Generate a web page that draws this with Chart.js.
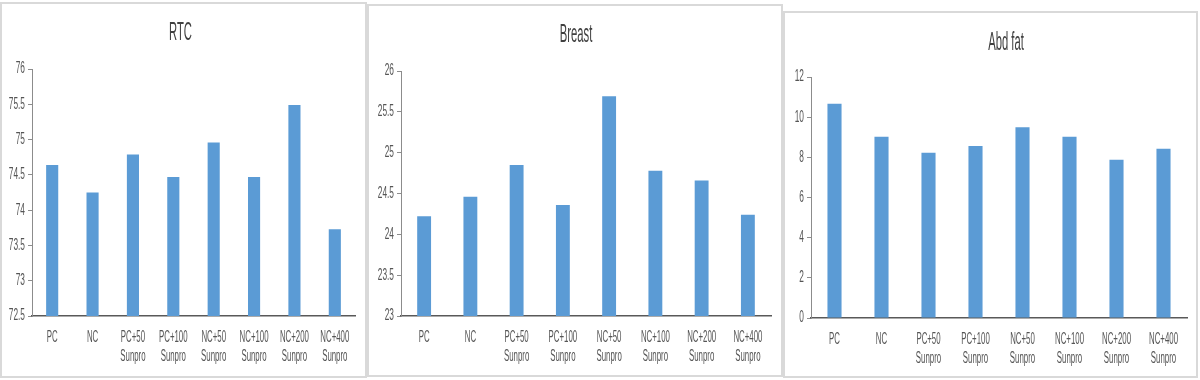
<!DOCTYPE html>
<html>
<head>
<meta charset="utf-8">
<script src="https://cdn.jsdelivr.net/npm/chart.js@4"></script>
<style>
  body { margin: 0; background: #fff; width: 1200px; height: 380px; position: relative; overflow: hidden; }
  .panel { position: absolute; box-sizing: border-box; border: 2px solid #d9d9d9; background: #fff; }
  .panel canvas { display: block; }
</style>
</head>
<body>
<div class="panel" style="left:0px;top:2px;width:367px;height:376px"><canvas id="c1"></canvas></div>
<div class="panel" style="left:367px;top:4px;width:416px;height:373px"><canvas id="c2"></canvas></div>
<div class="panel" style="left:783px;top:11px;width:415px;height:367px"><canvas id="c3"></canvas></div>
<script>
// Data
const categories = [
  "PC", "NC", ["PC+50", "Sunpro"], ["PC+100", "Sunpro"],
  ["NC+50", "Sunpro"], ["NC+100", "Sunpro"], ["NC+200", "Sunpro"], ["NC+400", "Sunpro"]
];
const rtcValues = [74.64, 74.25, 74.79, 74.47, 74.96, 74.47, 75.49, 73.73];
const breastValues = [24.22, 24.46, 24.85, 24.36, 25.69, 24.78, 24.66, 24.24];
const abdFatValues = [10.67, 9.03, 8.23, 8.57, 9.50, 9.03, 7.88, 8.43];
const rtcTicks = [72.5, 76, 0.5];     // min, max, step
const breastTicks = [23, 26, 0.5];
const abdFatTicks = [0, 12, 2];

const FONT = "'Liberation Sans', Arial, sans-serif";

// the source text is a narrow face, so squeeze it sideways
function narrowText(ctx, text, x, y, size, squeeze, color, align) {
  ctx.save();
  ctx.font = size + "px " + FONT;
  ctx.fillStyle = color;
  ctx.textAlign = align;
  ctx.textBaseline = "middle";
  ctx.translate(x, y);
  ctx.scale(squeeze, 1);
  ctx.fillText(text, 0, 0);
  ctx.restore();
}

// tick labels and title drawn narrow
const narrowLabels = {
  id: "narrowLabels",
  afterDraw(chart, args, opts) {
    const ctx = chart.ctx;
    const xs = chart.scales.x;
    const ys = chart.scales.y;
    chart.data.labels.forEach((lab, i) => {
      const lines = Array.isArray(lab) ? lab : [lab];
      const x = xs.getPixelForTick(i);
      lines.forEach((t, j) => narrowText(ctx, t, x, xs.top + 22 + j * 19, 16, 0.49, "#555555", "center"));
    });
    ys.ticks.forEach((t) => {
      narrowText(ctx, String(t.value), ys.right - 7, ys.getPixelForValue(t.value), 16, 0.52, "#555555", "right");
    });
    const mid = (chart.chartArea.left + chart.chartArea.right) / 2;
    narrowText(ctx, opts.text, mid + opts.dx, opts.y, 25, 0.45, "#404040", "center");
  },
};

// Draw one bar panel
function drawPanel(canvasId, title, values, ticks, box) {
  const canvas = document.getElementById(canvasId);
  canvas.width = box.w;
  canvas.height = box.h;
  canvas.style.width = box.w + "px";
  canvas.style.height = box.h + "px";

  return new Chart(canvas.getContext("2d"), {
    type: "bar",
    data: {
      labels: categories,
      datasets: [
        {
          label: title,
          data: values,
          backgroundColor: "#5b9bd5",
          borderWidth: 0,
          categoryPercentage: 1,
          barPercentage: 0.3,
        },
      ],
    },
    plugins: [narrowLabels],
    options: {
      responsive: false,
      animation: false,
      layout: { padding: { left: 0, right: box.right, top: box.top, bottom: 0 } },
      plugins: {
        legend: { display: false },
        tooltip: { enabled: false },
        title: { display: false },
        narrowLabels: { text: title, y: box.titleY, dx: box.titleDx },
      },
      scales: {
        x: {
          grid: { display: false },
          border: { display: true, color: "#595959", width: 1.5 },
          ticks: { display: false },
          afterFit: (scale) => { scale.height = box.xh; },
        },
        y: {
          min: ticks[0],
          max: ticks[1],
          grid: { display: true, drawOnChartArea: false, drawTicks: true, tickLength: 4, color: "#8c8c8c" },
          border: { display: true, color: "#8c8c8c", width: 1 },
          ticks: { display: false, stepSize: ticks[2] },
          afterFit: (scale) => { scale.width = box.left; },
        },
      },
    },
  });
}

document.addEventListener("DOMContentLoaded", () => {
  drawPanel("c1", "RTC", rtcValues, rtcTicks, { w: 363, h: 372, left: 30, right: 10, top: 65, titleY: 29, titleDx: -13, xh: 60 });
  drawPanel("c2", "Breast", breastValues, breastTicks, { w: 412, h: 369, left: 32, right: 10, top: 65, titleY: 29, titleDx: -10, xh: 59 });
  drawPanel("c3", "Abd fat", abdFatValues, abdFatTicks, { w: 411, h: 363, left: 26, right: 9, top: 64, titleY: 30, titleDx: 7, xh: 58 });
});
</script>
</body>
</html>
